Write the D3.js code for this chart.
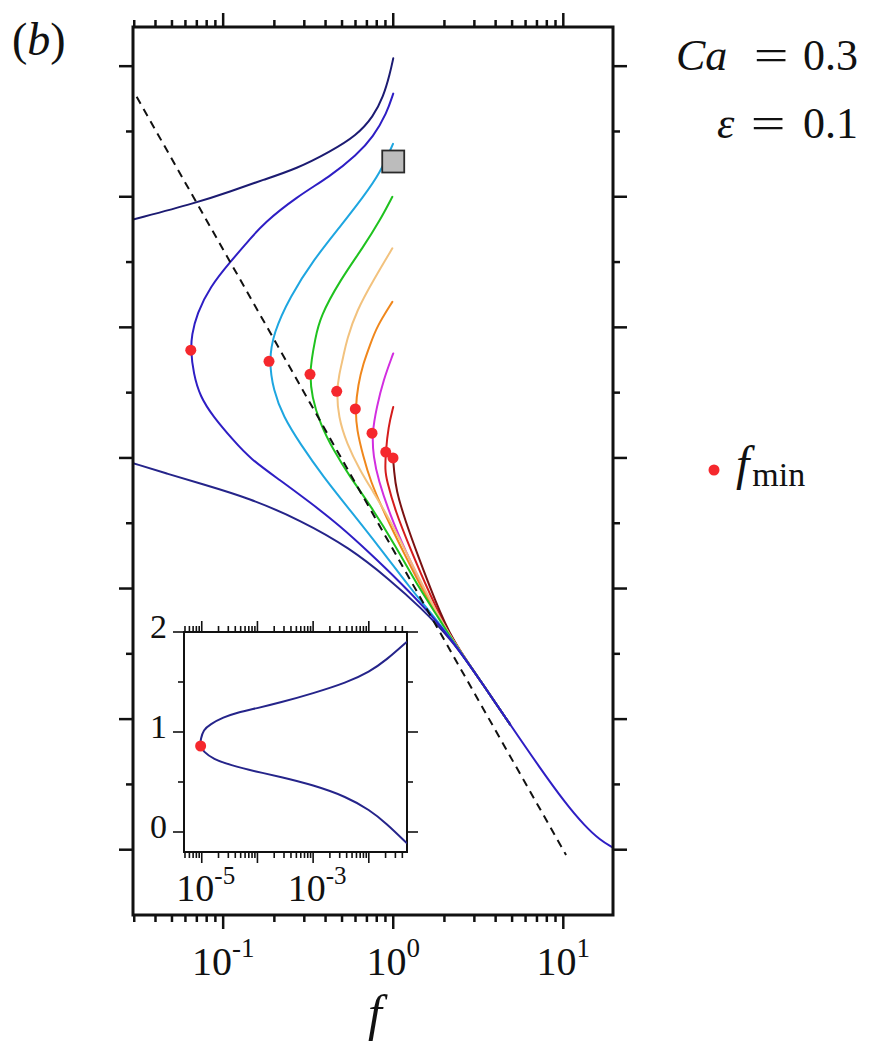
<!DOCTYPE html>
<html>
<head>
<meta charset="utf-8">
<script src="https://cdn.jsdelivr.net/npm/d3@7"></script>
<style>
  body { margin: 0; background: #fff; }
  svg { display: block; }
  text { font-family: "Liberation Serif", "DejaVu Serif", serif; fill: #111; }
</style>
</head>
<body>
<svg id="chart" width="871" height="1046"></svg>
<script>
// ---------- data ----------
// main panel: f (log axis) and y for each branch, ordered along the curve
const fTopBranch = [0.0295, 0.0700, 0.1097, 0.1722, 0.2708, 0.4248, 0.6101, 0.7638, 0.8745, 0.9576, 1.0];
const yTopBranch = [10.65, 10.91, 11.08, 11.26, 11.43, 11.69, 11.94, 12.23, 12.53, 12.89, 13.12];

// shared high-f tail that every branch joins
const fTail = [2.218, 3.238, 4.862, 7.299, 10.24, 13.42, 16.44, 19.6];
const yTail = [4.21, 3.60, 2.92, 2.25, 1.72, 1.36, 1.15, 1.03];

const fBlue = [1.0, 0.9158, 0.7638, 0.6101, 0.4248, 0.2708, 0.1722, 0.1439, 0.1097, 0.0837, 0.0700, 0.0653, 0.0645,
               0.0668, 0.0731, 0.0875, 0.1148, 0.1439, 0.2160, 0.3241, 0.4865, 0.7305, 1.096, 1.646];
const yBlue = [12.58, 12.28, 11.92, 11.64, 11.31, 11.00, 10.59, 10.35, 10.00, 9.62, 9.21, 8.88, 8.65,
               8.30, 7.94, 7.63, 7.27, 6.99, 6.66, 6.32, 5.96, 5.54, 5.10, 4.62];

const fLowBranch = [0.0295, 0.0466, 0.0731, 0.1439, 0.2831, 0.5571, 0.9576, 1.437];
const yLowBranch = [6.92, 6.76, 6.61, 6.38, 6.05, 5.62, 5.13, 4.72];

const fCyan = [0.997, 0.8362, 0.6669, 0.4865, 0.3390, 0.2472, 0.1972, 0.1860, 0.1972, 0.2259, 0.2831, 0.3881, 0.5571, 0.8362, 1.255, 1.761];
const yCyan = [11.81, 11.36, 11.00, 10.54, 10.03, 9.47, 8.91, 8.48, 8.04, 7.63, 7.22, 6.71, 6.20, 5.62, 5.01, 4.55];

const fGreen = [0.988, 0.8362, 0.6669, 0.4865, 0.3711, 0.3469, 0.3308, 0.3241, 0.3318, 0.3711, 0.4443, 0.5571, 0.7305, 1.024, 1.437, 1.884];
const yGreen = [11.00, 10.64, 10.23, 9.72, 9.16, 8.81, 8.50, 8.28, 7.94, 7.53, 7.12, 6.71, 6.28, 5.67, 4.98, 4.52];

const fTan = [0.988, 0.7638, 0.6101, 0.5327, 0.5087, 0.4799, 0.4653, 0.4755, 0.5327, 0.6378, 0.7504, 0.9576, 1.255, 1.646];
const yTan = [10.21, 9.72, 9.26, 8.81, 8.55, 8.27, 8.02, 7.63, 7.22, 6.81, 6.51, 6.05, 5.44, 4.82];

const fOrange = [0.988, 0.7996, 0.7305, 0.6669, 0.6209, 0.5985, 0.6101, 0.6669, 0.7305, 0.8949, 1.173, 1.538];
const yOrange = [9.39, 9.01, 8.73, 8.45, 8.12, 7.75, 7.43, 7.02, 6.66, 6.13, 5.51, 4.90];

const fMagenta = [1.0, 0.8745, 0.7996, 0.7504, 0.7638, 0.8175, 0.9576, 1.173, 1.538];
const yMagenta = [8.60, 8.19, 7.78, 7.38, 7.02, 6.66, 6.13, 5.59, 4.95];

const fRed = [1.0, 0.9358, 0.9035, 0.8949, 0.9158, 1.024, 1.255, 1.646];
const yRed = [7.78, 7.48, 7.09, 6.81, 6.66, 6.20, 5.62, 4.90];

const fDarkRed = [0.997, 1.011, 1.039, 1.173, 1.399, 1.761];
const yDarkRed = [7.00, 6.81, 6.51, 6.05, 5.50, 4.82];

// f_min markers
const fMin = [0.0645, 0.1860, 0.3241, 0.4653, 0.5985, 0.7504, 0.9035, 0.997];
const yMin = [8.65, 8.48, 8.28, 8.02, 7.75, 7.38, 7.09, 7.00];

// square marker and dashed guide line
const fSquare = 1.0, ySquare = 11.54;
const fGuide = [0.0310, 10.38];
const yGuide = [12.53, 0.92];

// inset curve
const fInset = [0.0484, 0.02065, 0.01038, 0.003963, 0.001, 2.529e-4, 9.66e-5, 4.236e-5, 2.443e-5, 1.409e-5, 1.069e-5, 9.6e-6, 9.3e-6,
                1.069e-5, 1.614e-5, 3.214e-5, 9.66e-5, 2.529e-4, 0.001, 0.003963, 0.01038, 0.02065, 0.0484];
const yInset = [1.903, 1.72, 1.603, 1.493, 1.387, 1.293, 1.237, 1.193, 1.147, 1.077, 1.02, 0.93, 0.865,
                0.803, 0.73, 0.67, 0.603, 0.553, 0.47, 0.353, 0.22, 0.087, -0.113];
const fInsetMin = 9.55e-6, yInsetMin = 0.86;

// axes
const fDomain = [0.0295, 19.6];
const yDomain = [0, 13.6];
const xTickLabels = [{v: 0.1, e: "-1"}, {v: 1, e: "0"}, {v: 10, e: "1"}];
const insetFDomain = [4.8e-6, 0.0485];
const insetYDomain = [-0.2, 2.0];
const insetXTickLabels = [{v: 1e-5, e: "-5"}, {v: 1e-3, e: "-3"}];
const insetYTickLabels = [0, 1, 2];

const caText = "0.3", epsText = "0.1";

// ---------- layout ----------
const svg = d3.select("#chart");
const P = {left: 133, right: 613, top: 27, bottom: 915};
const x = d3.scaleLog().domain(fDomain).range([P.left, P.right]);
const y = d3.scaleLinear().domain(yDomain).range([P.bottom, P.top]);

const I = {left: 184, right: 407, top: 632, bottom: 852};
const xi = d3.scaleLog().domain(insetFDomain).range([I.left, I.right]);
const yi = d3.scaleLinear().domain(insetYDomain).range([I.bottom, I.top]);

const defs = svg.append("defs");
defs.append("clipPath").attr("id", "plotClip")
  .append("rect").attr("x", P.left).attr("y", P.top)
  .attr("width", P.right - P.left).attr("height", P.bottom - P.top);
defs.append("clipPath").attr("id", "insetClip")
  .append("rect").attr("x", I.left).attr("y", I.top)
  .attr("width", I.right - I.left).attr("height", I.bottom - I.top);

function logTicks(domain) {
  const out = [];
  const k0 = Math.floor(Math.log10(domain[0])), k1 = Math.ceil(Math.log10(domain[1]));
  for (let k = k0; k <= k1; k++) {
    for (let m = 1; m <= 9; m++) {
      const v = m * Math.pow(10, k);
      if (v >= domain[0] * 0.999 && v <= domain[1] * 1.001) out.push({v, major: m === 1});
    }
  }
  return out;
}

// ---------- main curves ----------
const line = d3.line().x(d => x(d[0])).y(d => y(d[1])).curve(d3.curveBasis);
const zipPts = (fs, ys) => fs.map((f, i) => [f, ys[i]]);
const tailPts = zipPts(fTail, yTail);

const series = [
  {f: fRed, y: yRed, color: "#d41c1c", tail: 3},
  {f: fDarkRed, y: yDarkRed, color: "#7a1212", tail: 3},
  {f: fMagenta, y: yMagenta, color: "#d22ee0", tail: 3},
  {f: fOrange, y: yOrange, color: "#f0871c", tail: 3},
  {f: fTan, y: yTan, color: "#f2c27e", tail: 3},
  {f: fGreen, y: yGreen, color: "#1fc21f", tail: 3},
  {f: fCyan, y: yCyan, color: "#1ea6e0", tail: 3},
  {f: fLowBranch, y: yLowBranch, color: "#25248a", tail: 3},
  {f: fBlue, y: yBlue, color: "#2e1ec4", tail: fTail.length},
  {f: fTopBranch, y: yTopBranch, color: "#1c1b72", tail: 0}
];

const gCurves = svg.append("g").attr("clip-path", "url(#plotClip)");
series.forEach(s => {
  const pts = zipPts(s.f, s.y).concat(tailPts.slice(0, s.tail));
  gCurves.append("path")
    .attr("d", line(pts))
    .attr("fill", "none").attr("stroke", s.color)
    .attr("stroke-width", 2).attr("stroke-linecap", "round");
});

// dashed guide
gCurves.append("path")
  .attr("d", d3.line().x(d => x(d[0])).y(d => y(d[1]))(zipPts(fGuide, yGuide)))
  .attr("fill", "none").attr("stroke", "#111").attr("stroke-width", 2)
  .attr("stroke-dasharray", "8,6");

// square marker
svg.append("rect")
  .attr("x", x(fSquare) - 11).attr("y", y(ySquare) - 11)
  .attr("width", 22).attr("height", 22)
  .attr("fill", "#bcbcbc").attr("stroke", "#2a2a2a").attr("stroke-width", 1.8);

// f_min markers
svg.append("g").selectAll("circle").data(zipPts(fMin, yMin)).join("circle")
  .attr("cx", d => x(d[0])).attr("cy", d => y(d[1])).attr("r", 5.5)
  .attr("fill", "#f5282d");

// ---------- main frame and ticks ----------
const gAx = svg.append("g").attr("stroke", "#111").attr("stroke-width", 2.5);
gAx.append("rect").attr("x", P.left).attr("y", P.top)
  .attr("width", P.right - P.left).attr("height", P.bottom - P.top)
  .attr("fill", "none").attr("stroke-width", 3);

logTicks(fDomain).forEach(t => {
  const px = x(t.v), L = t.major ? 14 : 7;
  gAx.append("line").attr("x1", px).attr("x2", px).attr("y1", P.top).attr("y2", P.top - L);
  gAx.append("line").attr("x1", px).attr("x2", px).attr("y1", P.bottom).attr("y2", P.bottom + L);
});
d3.range(1, 14).forEach(v => {
  const py = y(v), L = (v % 2 === 1) ? 14 : 7;
  gAx.append("line").attr("x1", P.left).attr("x2", P.left - L).attr("y1", py).attr("y2", py);
  gAx.append("line").attr("x1", P.right).attr("x2", P.right + L).attr("y1", py).attr("y2", py);
});

// x tick labels
xTickLabels.forEach(t => {
  const tx = svg.append("text").attr("x", x(t.v)).attr("y", 975)
    .attr("text-anchor", "middle").attr("font-size", 40);
  tx.append("tspan").text("10");
  tx.append("tspan").attr("dy", -18).attr("font-size", 27).text(t.e);
});

// x axis title
svg.append("text").attr("x", 375).attr("y", 1030).attr("text-anchor", "middle")
  .attr("font-size", 50).attr("font-style", "italic").text("f");

// ---------- inset ----------
const gIn = svg.append("g");
gIn.append("rect").attr("x", I.left).attr("y", I.top)
  .attr("width", I.right - I.left).attr("height", I.bottom - I.top)
  .attr("fill", "#fff").attr("stroke", "#111").attr("stroke-width", 2);

const lineIn = d3.line().x(d => xi(d[0])).y(d => yi(d[1])).curve(d3.curveBasis);
gIn.append("path").attr("clip-path", "url(#insetClip)")
  .attr("d", lineIn(zipPts(fInset, yInset)))
  .attr("fill", "none").attr("stroke", "#25248a").attr("stroke-width", 2);

gIn.append("circle").attr("cx", xi(fInsetMin)).attr("cy", yi(yInsetMin)).attr("r", 5.5).attr("fill", "#f5282d");

const gInAx = gIn.append("g").attr("stroke", "#111").attr("stroke-width", 1.6);
logTicks(insetFDomain).forEach(t => {
  const px = xi(t.v), L = t.major ? 11 : 6;
  gInAx.append("line").attr("x1", px).attr("x2", px).attr("y1", I.top).attr("y2", I.top - L);
  gInAx.append("line").attr("x1", px).attr("x2", px).attr("y1", I.bottom).attr("y2", I.bottom + L);
});
[0, 0.5, 1, 1.5, 2].forEach(v => {
  const py = yi(v), L = Number.isInteger(v) ? 11 : 6;
  gInAx.append("line").attr("x1", I.left).attr("x2", I.left - L).attr("y1", py).attr("y2", py);
  gInAx.append("line").attr("x1", I.right).attr("x2", I.right + L).attr("y1", py).attr("y2", py);
});

insetXTickLabels.forEach(t => {
  const tx = svg.append("text").attr("x", xi(t.v) + 4).attr("y", 901)
    .attr("text-anchor", "middle").attr("font-size", 38);
  tx.append("tspan").text("10");
  tx.append("tspan").attr("dy", -17).attr("font-size", 25).text(t.e);
});
insetYTickLabels.forEach(v => {
  svg.append("text").attr("x", 167).attr("y", yi(v) + 6)
    .attr("text-anchor", "end").attr("font-size", 34).text(String(v));
});

// ---------- annotations ----------
svg.append("text").attr("x", 12).attr("y", 55).attr("font-size", 46)
  .html('(<tspan font-style="italic">b</tspan>)');

// parameter labels: symbol, wide equals sign, value
function paramLabel(sym, val, yBase, symStart, eqMid) {
  svg.append("text").attr("x", symStart).attr("y", yBase).attr("font-size", 44)
    .attr("font-style", "italic").text(sym);
  svg.append("text").attr("transform", `translate(${eqMid},${yBase}) scale(1.4,1)`)
    .attr("font-size", 44).attr("text-anchor", "middle").text("=");
  svg.append("text").attr("x", 858).attr("y", yBase).attr("font-size", 44)
    .attr("text-anchor", "end").text(val);
}
paramLabel("Ca", caText, 70, 676, 771);
paramLabel("ε", epsText, 138, 717, 768);

// legend
svg.append("circle").attr("cx", 714).attr("cy", 470).attr("r", 5.5).attr("fill", "#f5282d");
const lg = svg.append("text").attr("x", 736).attr("y", 480).attr("font-size", 48);
lg.append("tspan").attr("font-style", "italic").text("f");
lg.append("tspan").attr("dy", 6).attr("dx", 3).attr("font-size", 34).text("min");
</script>
</body>
</html>
